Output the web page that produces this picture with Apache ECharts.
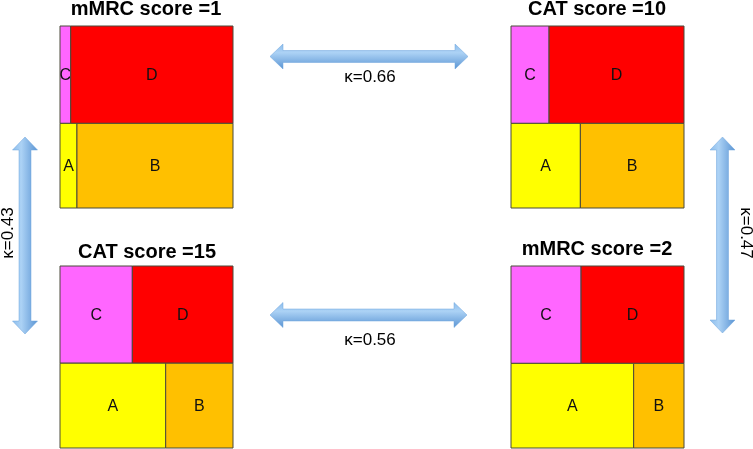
<!DOCTYPE html>
<html>
<head>
<meta charset="utf-8">
<script src="https://cdn.jsdelivr.net/npm/echarts@6/dist/echarts.min.js"></script>
<style>
html,body{margin:0;padding:0;background:#fff;}
#chart{width:753px;height:449px;}
</style>
</head>
<body>
<div id="chart"></div>
<script>
// Panel titles
var panelTitles = ['mMRC score =1', 'CAT score =10', 'CAT score =15', 'mMRC score =2'];
// Share (%) of width taken by cell C in the top row (rest is D)
var cShare = [6.2, 22.0, 41.8, 40.5];
// Share (%) of width taken by cell A in the bottom row (rest is B)
var aShare = [9.8, 40.1, 61.1, 70.9];
// Share (%) of height taken by the top row (C/D)
var topShare = [53.5, 53.5, 53.4, 53.5];
// Cell names
var cellNames = ['C', 'D', 'A', 'B'];
// Agreement (kappa) between panels: top, bottom, left, right
var kappaLabels = ['κ=0.66', 'κ=0.56', 'κ=0.43', 'κ=0.47'];

var cellColors = {C: '#ff66ff', D: '#ff0000', A: '#ffff00', B: '#ffc000'};
var FONT = '"Liberation Sans", Arial, sans-serif';

var grids = [
  {left: 60, top: 26, width: 173, height: 182},
  {left: 511, top: 26, width: 173, height: 182},
  {left: 60, top: 266, width: 173, height: 182},
  {left: 511, top: 266, width: 173, height: 182}
];

var xAxes = [], yAxes = [], series = [];
for (var i = 0; i < 4; i++) {
  xAxes.push({type: 'value', gridIndex: i, min: 0, max: 100, show: false});
  yAxes.push({type: 'value', gridIndex: i, min: 0, max: 100, show: false});
  var t = topShare[i];
  var bottomTop = 100 - t;
  var data = [
    [0, cShare[i], bottomTop, 100, 'C'],
    [cShare[i], 100, bottomTop, 100, 'D'],
    [0, aShare[i], 0, bottomTop, 'A'],
    [aShare[i], 100, 0, bottomTop, 'B']
  ];
  series.push({
    type: 'custom',
    xAxisIndex: i,
    yAxisIndex: i,
    silent: true,
    data: data,
    renderItem: function (params, api) {
      var x0 = api.value(0), x1 = api.value(1), y0 = api.value(2), y1 = api.value(3);
      var name = cellNames[params.dataIndex];
      var p0 = api.coord([x0, y1]);
      var p1 = api.coord([x1, y0]);
      return {
        type: 'group',
        children: [{
          type: 'rect',
          shape: {x: p0[0], y: p0[1], width: p1[0] - p0[0], height: p1[1] - p0[1]},
          style: {fill: cellColors[name], stroke: '#4a4a3a', lineWidth: 1}
        }, {
          type: 'text',
          style: {
            text: name, x: (p0[0] + p1[0]) / 2, y: (p0[1] + p1[1]) / 2 + 1,
            align: 'center', verticalAlign: 'middle',
            textAlign: 'center', textVerticalAlign: 'middle',
            font: '16px ' + FONT, fill: '#111'
          }
        }]
      };
    }
  });
}

var titlePos = [[146, 9], [597, 9], [147, 252], [597, 249]];

var graphics = [];
panelTitles.forEach(function (t, i) {
  graphics.push({
    type: 'text', x: titlePos[i][0], y: titlePos[i][1],
    style: {text: t, x: 0, y: 0, align: 'center', verticalAlign: 'middle',
      textAlign: 'center', textVerticalAlign: 'middle',
      font: 'bold 20px ' + FONT, fill: '#000'}
  });
});

function hGrad() {
  return {type: 'linear', x: 0, y: 0, x2: 0, y2: 1, colorStops: [
    {offset: 0, color: '#8dbdec'}, {offset: 0.35, color: '#acd2f5'}, {offset: 1, color: '#5a94d3'}]};
}
function vGrad() {
  return {type: 'linear', x: 0, y: 0, x2: 1, y2: 0, colorStops: [
    {offset: 0, color: '#8dbdec'}, {offset: 0.35, color: '#acd2f5'}, {offset: 1, color: '#5a94d3'}]};
}
function hArrow(x1, x2, y, w, h, L) {
  return [[x1, y], [x1 + L, y - h], [x1 + L, y - w], [x2 - L, y - w], [x2 - L, y - h], [x2, y],
    [x2 - L, y + h], [x2 - L, y + w], [x1 + L, y + w], [x1 + L, y + h]];
}
function vArrow(y1, y2, x, w, h, L) {
  return [[x, y1], [x + h, y1 + L], [x + w, y1 + L], [x + w, y2 - L], [x + h, y2 - L], [x, y2],
    [x - h, y2 - L], [x - w, y2 - L], [x - w, y1 + L], [x - h, y1 + L]];
}
graphics.push({type: 'polygon', shape: {points: hArrow(270, 468, 56.5, 6, 12.5, 13)},
  style: {fill: hGrad(), stroke: '#6fa5dc', lineWidth: 0.5}});
graphics.push({type: 'polygon', shape: {points: hArrow(270, 467, 315, 6, 12.5, 13)},
  style: {fill: hGrad(), stroke: '#6fa5dc', lineWidth: 0.5}});
graphics.push({type: 'polygon', shape: {points: vArrow(137, 334, 25, 6, 12.5, 13)},
  style: {fill: vGrad(), stroke: '#6fa5dc', lineWidth: 0.5}});
graphics.push({type: 'polygon', shape: {points: vArrow(137, 333, 722.5, 6, 12.5, 13)},
  style: {fill: vGrad(), stroke: '#6fa5dc', lineWidth: 0.5}});

var kPos = [[370, 77, 0], [370, 340, 0], [8, 233, Math.PI / 2], [746, 233, -Math.PI / 2]];
kappaLabels.forEach(function (k, i) {
  graphics.push({
    type: 'text', x: kPos[i][0], y: kPos[i][1], rotation: kPos[i][2],
    style: {text: k, x: 0, y: 0, align: 'center', verticalAlign: 'middle',
      textAlign: 'center', textVerticalAlign: 'middle',
      font: '17px ' + FONT, fill: '#000'}
  });
});

var chart = echarts.init(document.getElementById('chart'), null, {renderer: 'canvas'});
chart.setOption({
  animation: false,
  grid: grids,
  xAxis: xAxes,
  yAxis: yAxes,
  series: series,
  graphic: graphics
});
</script>
</body>
</html>
